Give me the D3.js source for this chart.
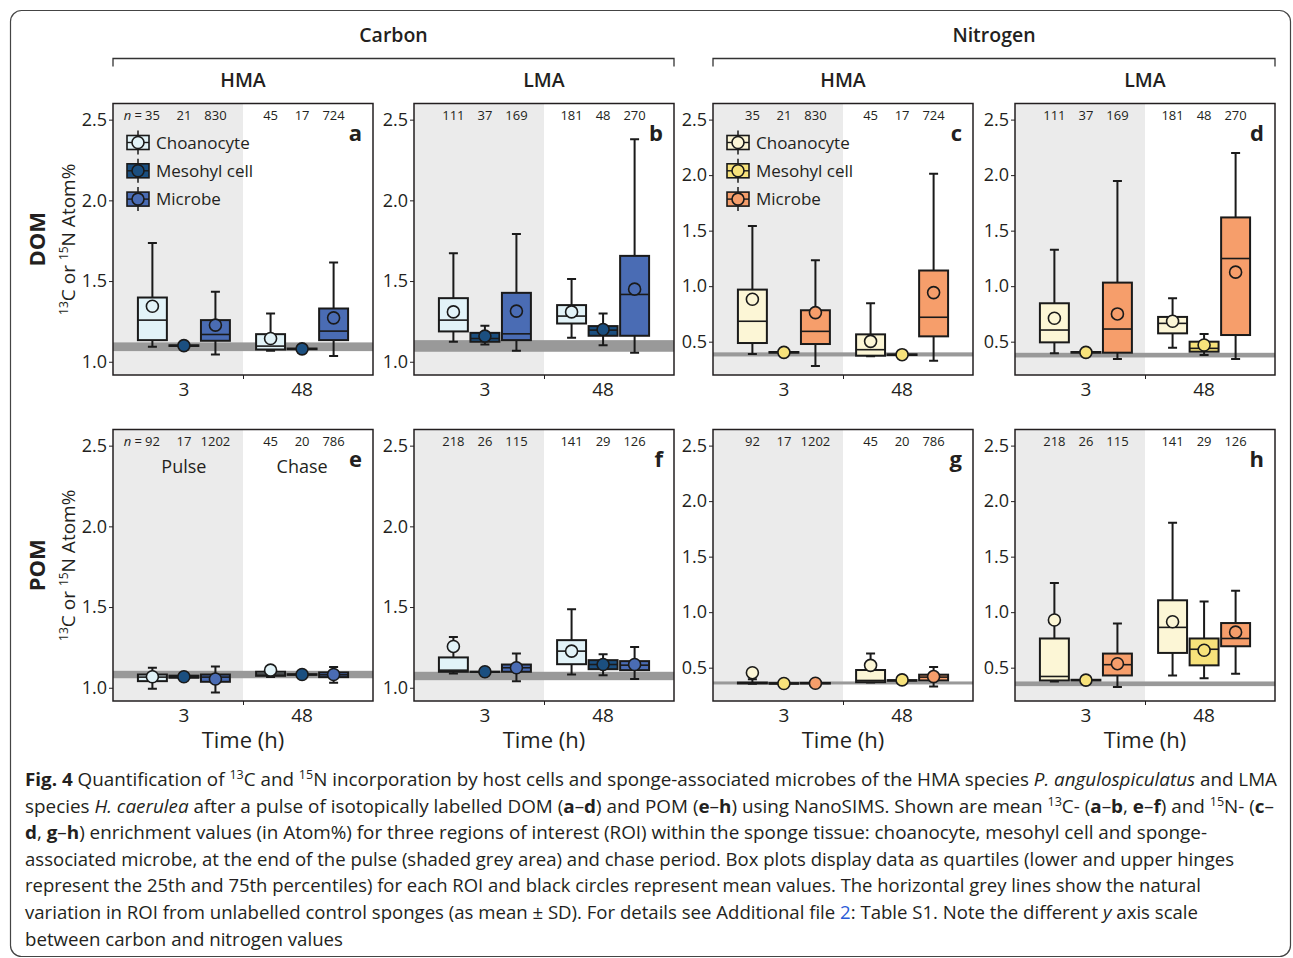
<!DOCTYPE html>
<html>
<head>
<meta charset="utf-8">
<style>
body { margin: 0; background: #fff; }
svg text { font-family: 'Open Sans', sans-serif; fill: #231f20; }
</style>
</head>
<body>
<svg></svg>
<script src="https://d3js.org/d3.v7.min.js"></script>
<script>

const cells = ['Choanocyte', 'Mesohyl cell', 'Microbe'];
const times = ['3', '48'];
const elements = ['Carbon', 'Nitrogen'];
const spongeTypes = ['HMA', 'LMA'];
const matterTypes = ['DOM', 'POM'];
const panelLetters = ['a', 'b', 'c', 'd', 'e', 'f', 'g', 'h'];
const carbonTicks = [1.0, 1.5, 2.0, 2.5];
const nitrogenTicks = [0.5, 1.0, 1.5, 2.0, 2.5];
const phaseLabels = ['Pulse', 'Chase'];

// n per box, order: 3 h (choanocyte, mesohyl, microbe), then 48 h
const countsA = [35, 21, 830, 45, 17, 724];
const countsB = [111, 37, 169, 181, 48, 270];
const countsE = [92, 17, 1202, 45, 20, 786];
const countsF = [218, 26, 115, 141, 29, 126];

// [lower whisker, q1, median, q3, upper whisker, mean]
const statsA = [
    [1.093, 1.134, 1.258, 1.398, 1.736, 1.344],
    [1.095, 1.098, 1.100, 1.102, 1.105, 1.100],
    [1.045, 1.130, 1.169, 1.258, 1.433, 1.227],
    [1.068, 1.076, 1.097, 1.171, 1.299, 1.144],
    [1.075, 1.078, 1.080, 1.082, 1.085, 1.080],
    [1.035, 1.134, 1.190, 1.330, 1.615, 1.272]
];
const statsB = [
    [1.124, 1.188, 1.258, 1.394, 1.672, 1.309],
    [1.107, 1.124, 1.144, 1.179, 1.223, 1.159],
    [1.068, 1.134, 1.173, 1.427, 1.792, 1.314],
    [1.149, 1.237, 1.283, 1.351, 1.512, 1.309],
    [1.103, 1.161, 1.196, 1.221, 1.299, 1.200],
    [1.056, 1.161, 1.417, 1.656, 2.378, 1.450]
];
const statsC = [
    [0.389, 0.488, 0.684, 0.969, 1.541, 0.882],
    [0.398, 0.401, 0.404, 0.407, 0.410, 0.404],
    [0.280, 0.479, 0.593, 0.783, 1.234, 0.762],
    [0.368, 0.374, 0.428, 0.566, 0.846, 0.503],
    [0.377, 0.380, 0.383, 0.386, 0.389, 0.383],
    [0.329, 0.548, 0.720, 1.141, 2.013, 0.942]
];
const statsD = [
    [0.395, 0.494, 0.605, 0.846, 1.327, 0.711],
    [0.398, 0.401, 0.404, 0.407, 0.410, 0.404],
    [0.344, 0.401, 0.614, 1.032, 1.947, 0.750],
    [0.446, 0.575, 0.665, 0.723, 0.891, 0.684],
    [0.380, 0.410, 0.440, 0.500, 0.569, 0.470],
    [0.344, 0.560, 1.249, 1.619, 2.200, 1.126]
];
const statsE = [
    [0.994, 1.041, 1.066, 1.082, 1.124, 1.068],
    [1.060, 1.062, 1.068, 1.075, 1.078, 1.068],
    [0.971, 1.037, 1.066, 1.082, 1.132, 1.054],
    [1.066, 1.074, 1.085, 1.099, 1.120, 1.109],
    [1.078, 1.080, 1.082, 1.084, 1.086, 1.082],
    [1.031, 1.066, 1.080, 1.095, 1.128, 1.082]
];
const statsF = [
    [1.089, 1.099, 1.109, 1.188, 1.315, 1.256],
    [1.096, 1.098, 1.099, 1.100, 1.102, 1.099],
    [1.041, 1.099, 1.124, 1.144, 1.212, 1.124],
    [1.082, 1.146, 1.227, 1.295, 1.487, 1.227],
    [1.078, 1.115, 1.144, 1.171, 1.208, 1.144],
    [1.054, 1.109, 1.140, 1.165, 1.252, 1.144]
];
const statsG = [
    [0.355, 0.358, 0.362, 0.366, 0.395, 0.455],
    [0.352, 0.355, 0.358, 0.361, 0.364, 0.358],
    [0.354, 0.357, 0.360, 0.363, 0.366, 0.360],
    [0.367, 0.370, 0.385, 0.479, 0.627, 0.521],
    [0.379, 0.382, 0.385, 0.388, 0.391, 0.390],
    [0.330, 0.385, 0.415, 0.437, 0.506, 0.420]
];
const statsH = [
    [0.376, 0.385, 0.421, 0.763, 1.262, 0.929],
    [0.382, 0.385, 0.388, 0.391, 0.394, 0.388],
    [0.325, 0.430, 0.527, 0.627, 0.899, 0.536],
    [0.430, 0.633, 0.863, 1.107, 1.806, 0.914],
    [0.406, 0.521, 0.666, 0.763, 1.095, 0.657],
    [0.446, 0.693, 0.763, 0.902, 1.192, 0.820]
];

// unlabelled control sponges, mean - SD and mean + SD, panels a..h
const controlLow = [1.066, 1.062, 0.367, 0.358, 1.059, 1.047, 0.349, 0.334];
const controlHigh = [1.120, 1.134, 0.404, 0.400, 1.105, 1.099, 0.376, 0.376];

const carbonColors = ['#e2f3f8', '#1b4f80', '#4a6cb4'];
const nitrogenColors = ['#fcf6d6', '#f7e27b', '#f69e6b'];

const panelStats = [statsA, statsB, statsC, statsD, statsE, statsF, statsG, statsH];
const panelCounts = [countsA, countsB, countsA, countsB, countsE, countsF, countsE, countsF];

const panelLeft = [113, 414, 713, 1015];
const rowTop = [103.5, 429.5];
const panelW = 260;
const panelH = 271.5;
const carbonDomain = [0.918, 2.6];
const nitrogenDomain = [0.2, 2.645];
const dodge = 0.8 / 3;
const boxW = 0.245;

const svg = d3.select('svg')
    .attr('width', 1293)
    .attr('height', 958);

svg.append('rect')
    .attr('width', 1293).attr('height', 958).attr('fill', '#fff');

// outer frame
svg.append('rect')
    .attr('x', 10.5).attr('y', 10.5)
    .attr('width', 1280).attr('height', 946)
    .attr('rx', 11)
    .attr('fill', 'none')
    .attr('stroke', '#444')
    .attr('stroke-width', 1.2);

// element headers with brackets
elements.forEach((el, e) => {
    const x1 = panelLeft[e * 2];
    const x2 = panelLeft[e * 2 + 1] + panelW;
    svg.append('text')
        .attr('x', (x1 + x2) / 2).attr('y', 42)
        .attr('text-anchor', 'middle')
        .style('font-size', '19.5px').style('font-weight', 600)
        .text(el);
    svg.append('path')
        .attr('d', `M${x1},66.5V58.5H${x2}V66.5`)
        .attr('fill', 'none')
        .attr('stroke', '#333')
        .attr('stroke-width', 1.3);
    spongeTypes.forEach((s, k) => {
        svg.append('text')
            .attr('x', panelLeft[e * 2 + k] + panelW / 2).attr('y', 87)
            .attr('text-anchor', 'middle')
            .style('font-size', '19.5px').style('font-weight', 600)
            .text(s);
    });
});

// row labels
matterTypes.forEach((m, r) => {
    const cy = rowTop[r] + panelH / 2;
    svg.append('text')
        .attr('transform', `translate(45,${cy}) rotate(-90)`)
        .attr('text-anchor', 'middle')
        .style('font-size', '22px').style('font-weight', 700)
        .text(m);
    const sub = svg.append('text')
        .attr('transform', `translate(75,${cy}) rotate(-90)`)
        .attr('text-anchor', 'middle')
        .style('font-size', '19px');
    sub.append('tspan').attr('dy', -7).style('font-size', '12px').text('13');
    sub.append('tspan').attr('dy', 7).text('C or ');
    sub.append('tspan').attr('dy', -7).style('font-size', '12px').text('15');
    sub.append('tspan').attr('dy', 7).text('N Atom%');
});

function drawPanel(i) {
    const row = Math.floor(i / 4);
    const col = i % 4;
    const x0 = panelLeft[col];
    const y0 = rowTop[row];
    const isN = col >= 2;
    const colors = isN ? nitrogenColors : carbonColors;

    const x = d3.scaleLinear().domain([0.4, 2.6]).range([x0, x0 + panelW]);
    const y = d3.scaleLinear()
        .domain(isN ? nitrogenDomain : carbonDomain)
        .range([y0 + panelH, y0]);

    const g = svg.append('g');

    g.append('rect')
        .attr('x', x(0.4)).attr('y', y0)
        .attr('width', x(1.5) - x(0.4)).attr('height', panelH)
        .attr('fill', '#ebebeb');

    g.append('rect')
        .attr('x', x0).attr('width', panelW)
        .attr('y', y(controlHigh[i]))
        .attr('height', y(controlLow[i]) - y(controlHigh[i]))
        .attr('fill', '#999');

    const boxes = panelStats[i].map((s, k) => ({
        s: s,
        t: Math.floor(k / 3),
        c: k % 3,
        n: panelCounts[i][k]
    }));
    const cx = d => x(d.t + 1 + (d.c - 1) * dodge);
    const half = (x(boxW) - x(0)) / 2;

    const box = g.selectAll('.box').data(boxes).enter()
        .append('g').attr('class', 'box');

    box.append('path')
        .attr('d', d => `M${cx(d)},${y(d.s[0])}V${y(d.s[1])}M${cx(d)},${y(d.s[3])}V${y(d.s[4])}` +
            `M${cx(d) - 4.5},${y(d.s[0])}h9M${cx(d) - 4.5},${y(d.s[4])}h9`)
        .attr('fill', 'none')
        .attr('stroke', '#1a1a1a')
        .attr('stroke-width', 2);

    box.append('rect')
        .attr('x', d => cx(d) - half)
        .attr('y', d => y(d.s[3]))
        .attr('width', half * 2)
        .attr('height', d => y(d.s[1]) - y(d.s[3]))
        .attr('fill', d => colors[d.c])
        .attr('stroke', '#1a1a1a')
        .attr('stroke-width', 2);

    box.append('line')
        .attr('x1', d => cx(d) - half).attr('x2', d => cx(d) + half)
        .attr('y1', d => y(d.s[2])).attr('y2', d => y(d.s[2]))
        .attr('stroke', '#1a1a1a')
        .attr('stroke-width', 1.6);

    box.append('circle')
        .attr('cx', cx)
        .attr('cy', d => y(d.s[5]))
        .attr('r', 6)
        .attr('fill', d => colors[d.c])
        .attr('stroke', '#1a1a1a')
        .attr('stroke-width', 1.6);

    // n labels
    boxes.forEach((d, k) => {
        const t = g.append('text')
            .attr('x', cx(d)).attr('y', y0 + 16)
            .attr('text-anchor', 'middle')
            .style('font-size', '13px')
            .text(d.n);
        if (k === 0 && col === 0) {
            const w = t.node().getComputedTextLength();
            const nt = g.append('text')
                .attr('x', cx(d) - w / 2 - 3).attr('y', y0 + 16)
                .attr('text-anchor', 'end')
                .style('font-size', '13px');
            nt.append('tspan').style('font-style', 'italic').text('n');
            nt.append('tspan').text(' =');
        }
    });

    if (i === 4) {
        phaseLabels.forEach((p, t) => {
            g.append('text')
                .attr('x', x(t + 1)).attr('y', y0 + 43)
                .attr('text-anchor', 'middle')
                .style('font-size', '18px')
                .text(p);
        });
    }

    // legend
    if (i === 0 || i === 2) {
        cells.forEach((c, k) => {
            const ly = y0 + 39 + k * 28.3;
            const lx = x0 + 14;
            const lg = g.append('g');
            lg.append('line')
                .attr('x1', lx + 11).attr('x2', lx + 11)
                .attr('y1', ly - 12).attr('y2', ly + 12)
                .attr('stroke', '#1a1a1a').attr('stroke-width', 1.5);
            lg.append('rect')
                .attr('x', lx).attr('y', ly - 7)
                .attr('width', 22).attr('height', 14)
                .attr('fill', colors[k])
                .attr('stroke', '#1a1a1a').attr('stroke-width', 1.6);
            lg.append('line')
                .attr('x1', lx).attr('x2', lx + 22)
                .attr('y1', ly).attr('y2', ly)
                .attr('stroke', '#1a1a1a').attr('stroke-width', 1.4);
            lg.append('circle')
                .attr('cx', lx + 11).attr('cy', ly).attr('r', 6)
                .attr('fill', colors[k])
                .attr('stroke', '#1a1a1a').attr('stroke-width', 1.6);
            lg.append('text')
                .attr('x', lx + 29).attr('y', ly + 6)
                .style('font-size', '17px')
                .text(c);
        });
    }

    // panel letter
    g.append('text')
        .attr('x', x0 + panelW - 11).attr('y', y0 + 37)
        .attr('text-anchor', 'end')
        .style('font-size', '22px').style('font-weight', 700)
        .text(panelLetters[i]);

    // axes
    const yAxis = g.append('g')
        .attr('transform', `translate(${x0},0)`)
        .call(d3.axisLeft(y)
            .tickValues(isN ? nitrogenTicks : carbonTicks)
            .tickSize(4)
            .tickPadding(2)
            .tickFormat(d3.format('.1f')));
    yAxis.select('.domain').remove();
    yAxis.selectAll('text').style('font-size', '18px').style('font-family', "'Open Sans', sans-serif").attr('fill', '#231f20');
    yAxis.selectAll('line').attr('stroke', '#231f20');

    const xAxis = g.append('g')
        .attr('transform', `translate(0,${y0 + panelH})`)
        .call(d3.axisBottom(x)
            .tickValues([1.5])
            .tickSize(4)
            .tickFormat(''));
    xAxis.select('.domain').remove();
    xAxis.selectAll('line').attr('stroke', '#231f20');

    times.forEach((t, k) => {
        g.append('text')
            .attr('x', x(k + 1)).attr('y', y0 + panelH + 21)
            .attr('text-anchor', 'middle')
            .style('font-size', '19px')
            .text(t);
    });

    if (row === 1) {
        g.append('text')
            .attr('x', x(1.5)).attr('y', y0 + panelH + 47)
            .attr('text-anchor', 'middle')
            .style('font-size', '22px')
            .text('Time (h)');
    }

    g.append('rect')
        .attr('x', x0).attr('y', y0)
        .attr('width', panelW).attr('height', panelH)
        .attr('fill', 'none')
        .attr('stroke', '#231f20')
        .attr('stroke-width', 1.5);
}

d3.range(8).forEach(drawPanel);

// caption
const captionLines = [
    [['b', 'Fig. 4'], ['', ' Quantification of '], ['sup', '13'], ['', 'C and '], ['sup', '15'],
     ['', 'N incorporation by host cells and sponge-associated microbes of the HMA species '],
     ['i', 'P. angulospiculatus'], ['', ' and LMA']],
    [['', 'species '], ['i', 'H. caerulea'], ['', ' after a pulse of isotopically labelled DOM ('],
     ['b', 'a'], ['', '–'], ['b', 'd'], ['', ') and POM ('], ['b', 'e'], ['', '–'], ['b', 'h'],
     ['', ') using NanoSIMS. Shown are mean '], ['sup', '13'], ['', 'C- ('], ['b', 'a'], ['', '–'],
     ['b', 'b'], ['', ', '], ['b', 'e'], ['', '–'], ['b', 'f'], ['', ') and '], ['sup', '15'],
     ['', 'N- ('], ['b', 'c'], ['', '–']],
    [['b', 'd'], ['', ', '], ['b', 'g'], ['', '–'], ['b', 'h'],
     ['', ') enrichment values (in Atom%) for three regions of interest (ROI) within the sponge tissue: choanocyte, mesohyl cell and sponge-']],
    [['', 'associated microbe, at the end of the pulse (shaded grey area) and chase period. Box plots display data as quartiles (lower and upper hinges']],
    [['', 'represent the 25th and 75th percentiles) for each ROI and black circles represent mean values. The horizontal grey lines show the natural']],
    [['', 'variation in ROI from unlabelled control sponges (as mean ± SD). For details see Additional file '],
     ['link', '2'], ['', ': Table S1. Note the different '], ['i', 'y'], ['', ' axis scale']],
    [['', 'between carbon and nitrogen values']]
];
const captionEnds = [1277, 1274, 1207, 1234, 1201, 1198, 343];

captionLines.forEach((segs, li) => {
    const t = svg.append('text')
        .attr('x', 25).attr('y', 786 + li * 26.6)
        .style('font-size', '18px')
        .attr('textLength', captionEnds[li] - 25)
        .attr('lengthAdjust', 'spacingAndGlyphs');
    let raised = false;
    segs.forEach(([kind, txt]) => {
        const ts = t.append('tspan').text(txt);
        if (kind === 'sup') {
            ts.attr('dy', -7).style('font-size', '12px');
            raised = true;
            return;
        }
        if (raised) { ts.attr('dy', 7); raised = false; }
        if (kind === 'b') ts.style('font-weight', 700);
        if (kind === 'i') ts.style('font-style', 'italic');
        if (kind === 'link') ts.attr('fill', '#2a5bd7').style('fill', '#2a5bd7');
    });
});

</script>
</body>
</html>
